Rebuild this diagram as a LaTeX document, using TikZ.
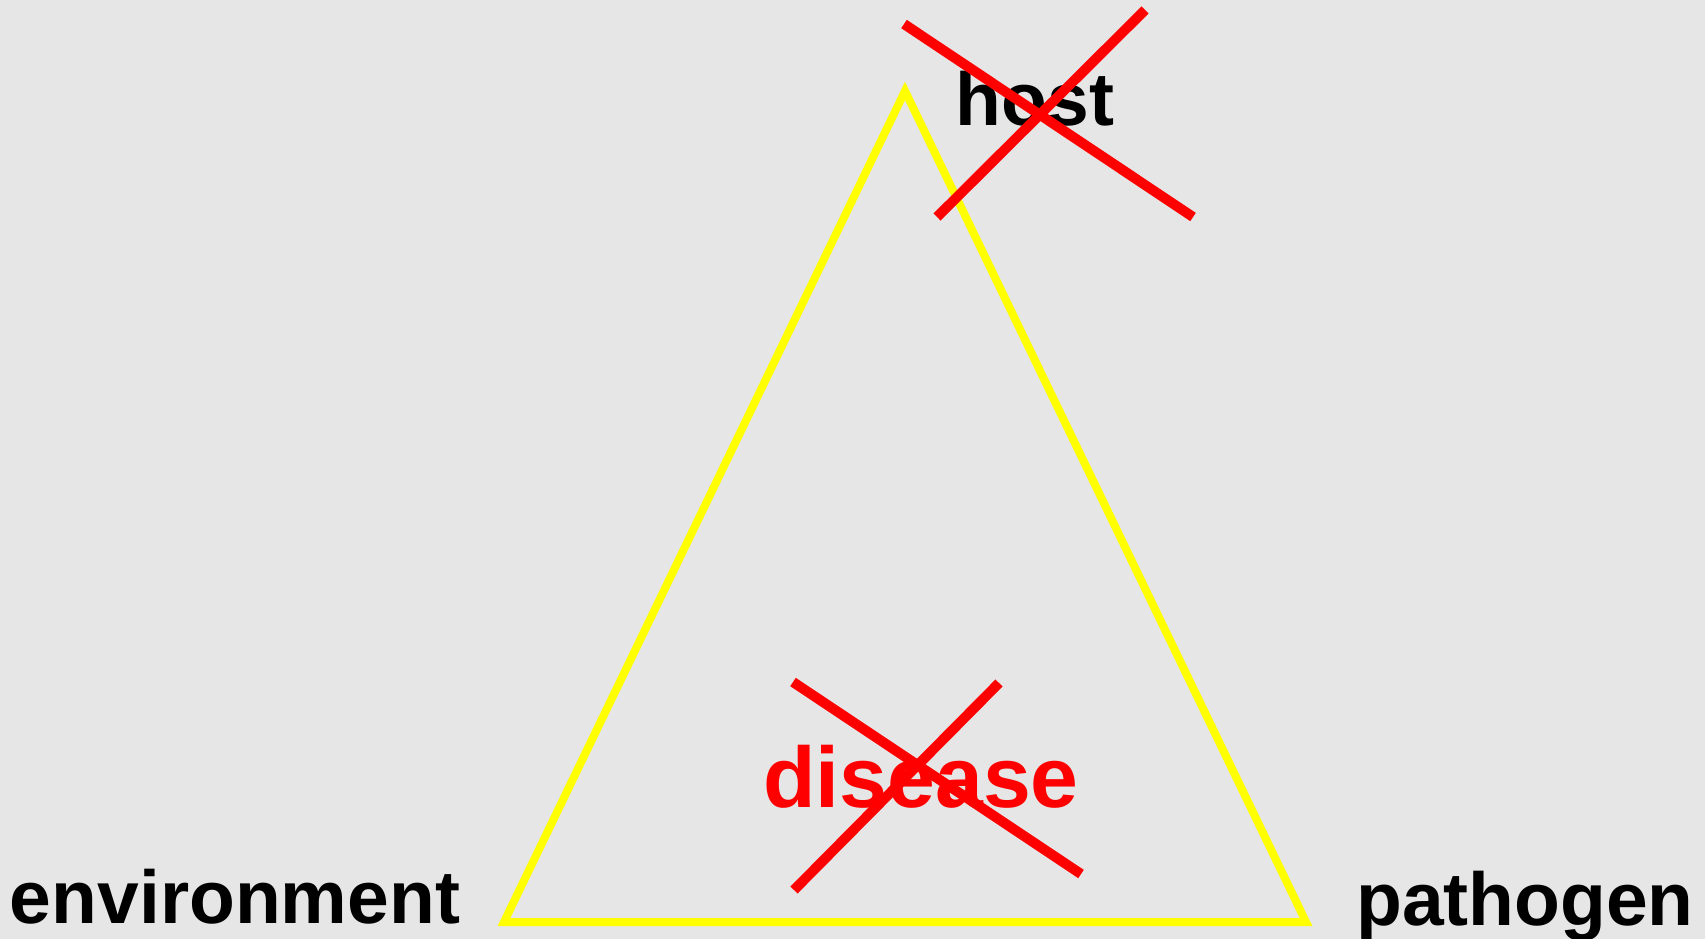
\documentclass[tikz,border=0pt]{standalone}
\usepackage{fontspec}
\setmainfont{Liberation Sans}
\definecolor{bg}{HTML}{E6E6E6}
\definecolor{tri}{HTML}{FFFF00}
\definecolor{xred}{HTML}{FF0000}
\tikzset{
  label/.style={inner sep=0pt, anchor=base, font=\fontsize{75}{75}\selectfont\bfseries},
  crossline/.style={draw=xred, line width=10pt, line cap=butt},
  triline/.style={draw=tri, line width=8pt, line join=miter}
}
\begin{document}
\begin{tikzpicture}[x=1pt,y=-1pt]
\fill[bg] (0,0) rectangle (1705,939);
\useasboundingbox (0,0) rectangle (1705,939);
\coordinate (apex) at (905,91);
\coordinate (bl) at (504,922);
\coordinate (br) at (1306,922);
\draw[triline] (apex) -- (bl) -- (br) -- cycle;
\node[label] (host) at (1035,125) {host};
\node[label, text=xred, font=\fontsize{86}{86}\selectfont\bfseries] (disease) at (921,807) {disease};
\node[label] (env) at (235,923) {environment};
\node[label] (path) at (1525,925) {pathogen};
\coordinate (h1a) at (904,24);
\coordinate (h1b) at (1193,217);
\coordinate (h2a) at (1145,10);
\coordinate (h2b) at (937,217);
\draw[crossline] (h1a) -- (h1b);
\draw[crossline] (h2a) -- (h2b);
\coordinate (d1a) at (793,682);
\coordinate (d1b) at (1081,874);
\coordinate (d2a) at (999,683);
\coordinate (d2b) at (794,890);
\draw[crossline] (d1a) -- (d1b);
\draw[crossline] (d2a) -- (d2b);
\end{tikzpicture}
\end{document}
